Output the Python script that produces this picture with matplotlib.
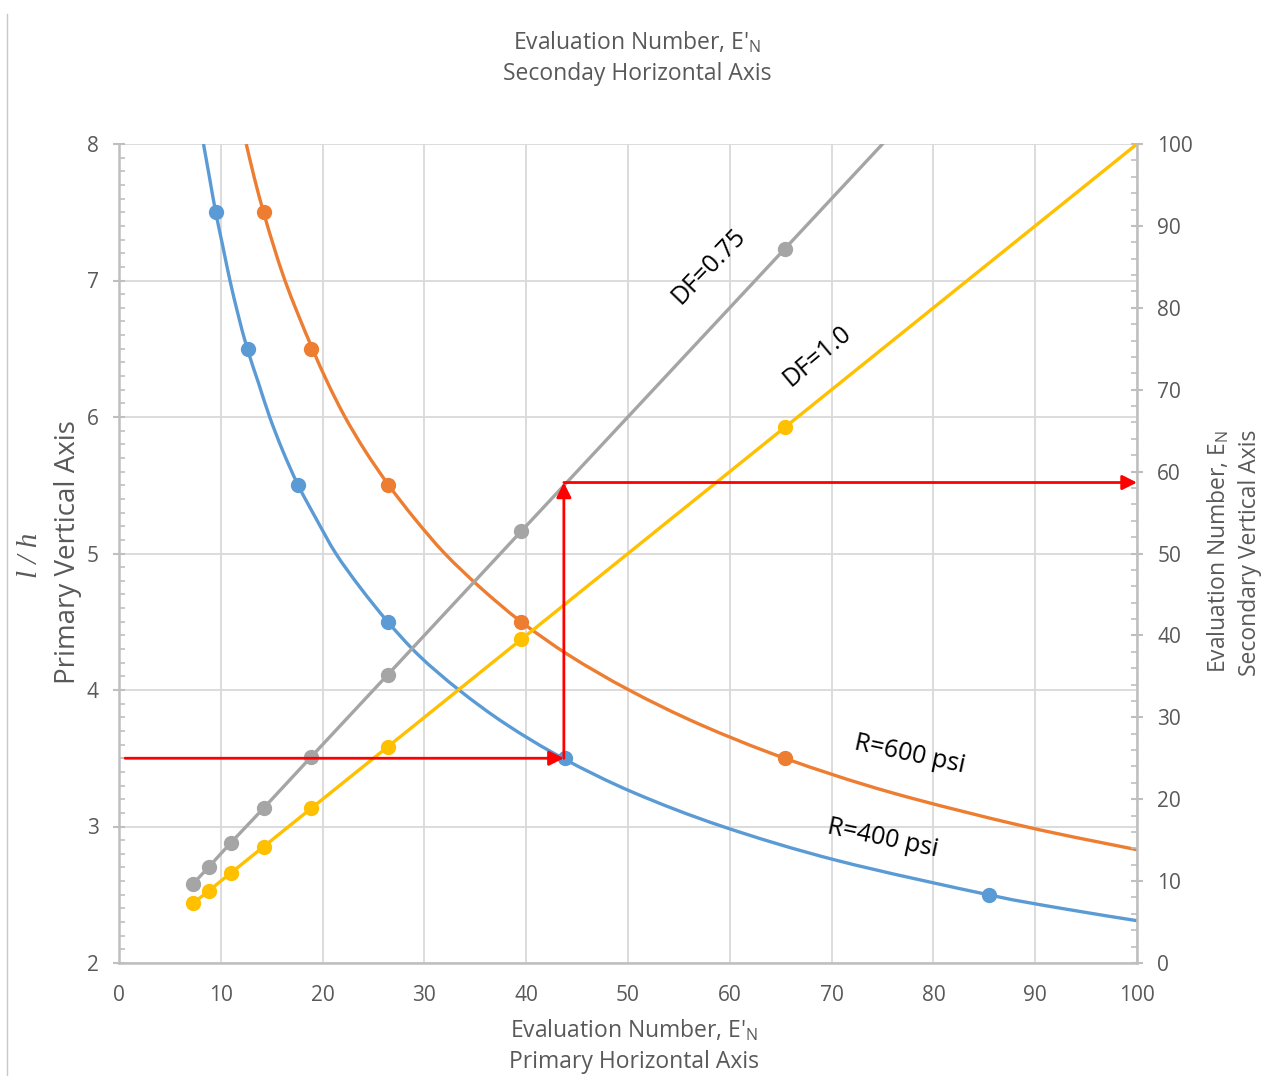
import matplotlib
matplotlib.use('Agg')
import matplotlib.pyplot as plt
import numpy as np
from matplotlib.lines import Line2D
from matplotlib.path import Path
from matplotlib.patches import PathPatch
from matplotlib.ticker import MultipleLocator

plt.rcParams['font.family'] = ['Open Sans', 'DejaVu Sans']
plt.rcParams['mathtext.default'] = 'regular'

# R=400 psi curve (primary axes)
r400_curve_x = [8.3, 8.9, 9.5, 10.2, 10.9, 11.7, 12.6, 13.7, 14.8, 16.1, 17.6, 19.4, 21.3,
                23.7, 26.4, 29.5, 33.4, 38.0, 43.6, 50.5, 59.3, 70.6, 85.4, 92.6, 100.0]
r400_curve_y = [8.0, 7.75, 7.5, 7.25, 7.0, 6.75, 6.5, 6.25, 6.0, 5.75, 5.5, 5.25, 5.0,
                4.75, 4.5, 4.25, 4.0, 3.75, 3.5, 3.25, 3.0, 2.75, 2.5, 2.4, 2.31]
r400_pts_x = [9.5, 12.7, 17.6, 26.4, 43.8, 85.5]
r400_pts_y = [7.5, 6.5, 5.5, 4.5, 3.5, 2.5]

# R=600 psi curve
r600_curve_x = [12.5, 13.3, 14.2, 15.2, 16.3, 17.6, 19.0, 20.5, 22.2, 24.2, 26.5, 29.1, 32.0,
                35.5, 39.5, 44.3, 50.1, 57.0, 65.4, 75.8, 89.0, 100.0]
r600_curve_y = [8.0, 7.75, 7.5, 7.25, 7.0, 6.75, 6.5, 6.25, 6.0, 5.75, 5.5, 5.25, 5.0,
                4.75, 4.5, 4.25, 4.0, 3.75, 3.5, 3.25, 3.0, 2.83]
r600_pts_x = [14.2, 18.9, 26.4, 39.5, 65.4]
r600_pts_y = [7.5, 6.5, 5.5, 4.5, 3.5]

# DF lines (secondary vertical axis)
df_pts_x = [7.3, 8.8, 11.0, 14.2, 18.9, 26.4, 39.5, 65.4]
df075_pts_y = [9.7, 11.7, 14.7, 18.9, 25.2, 35.2, 52.7, 87.2]
df075_end = (75.0, 100.0)
df100_pts_y = [7.3, 8.8, 11.0, 14.2, 18.9, 26.4, 39.5, 65.4]
df100_end = (100.0, 100.0)

# worked example path
ex_start_x = 0.6
ex_x = 43.7
ex_y1 = 3.5
ex_y2 = 5.52

BLUE = '#5B9BD5'
ORANGE = '#ED7D31'
GRAY = '#A5A5A5'
YELLOW = '#FFC000'
TXT = '#595959'
AXC = '#BFBFBF'


def smooth_path(xs, ys):
    # Catmull-Rom through the read points, drawn as cubic Bezier segments
    p = np.column_stack([xs, ys]).astype(float)
    p = np.vstack([p[0], p, p[-1]])
    verts = [p[1]]
    codes = [Path.MOVETO]
    for i in range(1, len(p) - 2):
        c1 = p[i] + (p[i + 1] - p[i - 1]) / 6
        c2 = p[i + 1] - (p[i + 2] - p[i]) / 6
        verts += [c1, c2, p[i + 1]]
        codes += [Path.CURVE4] * 3
    return Path(verts, codes)


def main():
    fig = plt.figure(figsize=(12.72, 10.76), dpi=100)
    ax = fig.add_axes([119 / 1272, 1 - 963 / 1076, (1137 - 119) / 1272, (963 - 144) / 1076])
    ax2 = ax.twinx()

    ax.set_xlim(0, 100)
    ax.set_ylim(2, 8)
    ax2.set_ylim(0, 100)

    ax.xaxis.set_major_locator(MultipleLocator(10))
    ax.yaxis.set_major_locator(MultipleLocator(1))
    ax.yaxis.set_minor_locator(MultipleLocator(0.1))
    ax2.yaxis.set_major_locator(MultipleLocator(10))
    ax2.yaxis.set_minor_locator(MultipleLocator(2))

    ax.grid(True, which='major', color='#D9D9D9', lw=1.3)
    ax.set_axisbelow(True)

    for a in (ax, ax2):
        for s in a.spines.values():
            s.set_visible(False)
    ax.spines['left'].set_visible(True)
    ax.spines['bottom'].set_visible(True)
    ax2.spines['right'].set_visible(True)
    for s in (ax.spines['left'], ax.spines['bottom'], ax2.spines['right']):
        s.set_color(AXC)
        s.set_linewidth(1.8)

    ax.tick_params(axis='x', length=0, pad=16, labelsize=15, labelcolor=TXT)
    ax.tick_params(axis='y', which='major', direction='inout', length=9, width=1.5,
                   color=AXC, pad=10, labelsize=15, labelcolor=TXT)
    ax.tick_params(axis='y', which='minor', direction='in', length=4, width=1.2, color=AXC)
    ax2.tick_params(axis='y', which='major', direction='inout', length=9, width=1.5,
                    color=AXC, pad=10, labelsize=15, labelcolor=TXT)
    ax2.tick_params(axis='y', which='minor', direction='in', length=4, width=1.2, color=AXC)

    # curves on primary axes
    ax.add_patch(PathPatch(smooth_path(r400_curve_x, r400_curve_y), fill=False,
                           edgecolor=BLUE, lw=2.4))
    ax.plot(r400_pts_x, r400_pts_y, 'o', color=BLUE, ms=10)
    ax.add_patch(PathPatch(smooth_path(r600_curve_x, r600_curve_y), fill=False,
                           edgecolor=ORANGE, lw=2.4))
    ax.plot(r600_pts_x, r600_pts_y, 'o', color=ORANGE, ms=10)

    # DF lines on secondary axis
    ax2.plot(df_pts_x + [df075_end[0]], df075_pts_y + [df075_end[1]], color=GRAY, lw=2.4)
    ax2.plot(df_pts_x, df075_pts_y, 'o', color=GRAY, ms=10)
    ax2.plot(df_pts_x + [df100_end[0]], df100_pts_y + [df100_end[1]], color=YELLOW, lw=2.4)
    ax2.plot(df_pts_x, df100_pts_y, 'o', color=YELLOW, ms=10)

    # red arrows (drawn on ax2 so they sit on top, in primary coordinates)
    arrow = dict(arrowstyle='-|>', color='#FF0000', lw=2, mutation_scale=22,
                 shrinkA=0, shrinkB=0)
    ax2.annotate('', xy=(ex_x, ex_y1), xytext=(ex_start_x, ex_y1),
                 xycoords=ax.transData, textcoords=ax.transData, arrowprops=arrow)
    ax2.annotate('', xy=(ex_x, ex_y2), xytext=(ex_x, ex_y1),
                 xycoords=ax.transData, textcoords=ax.transData, arrowprops=arrow)
    ax2.annotate('', xy=(100, ex_y2), xytext=(ex_x, ex_y2),
                 xycoords=ax.transData, textcoords=ax.transData, arrowprops=arrow,
                 annotation_clip=False)

    # curve labels
    ax.text(57.9, 7.1, 'DF=0.75', rotation=46, fontsize=18, ha='center', va='center',
            rotation_mode='anchor')
    ax.text(68.6, 6.45, 'DF=1.0', rotation=40, fontsize=18, ha='center', va='center',
            rotation_mode='anchor')
    ax.text(77.7, 3.53, 'R=600 psi', rotation=-12, fontsize=18, ha='center', va='center',
            rotation_mode='anchor')
    ax.text(75.0, 2.91, 'R=400 psi', rotation=-12, fontsize=18, ha='center', va='center',
            rotation_mode='anchor')

    # axis titles
    W, H = 1272, 1076
    fig.text(637 / W, 1 - 42 / H, "Evaluation Number, E'$_{N}$", fontsize=16.5, color=TXT,
             ha='center', va='center')
    fig.text(637 / W, 1 - 74 / H, 'Seconday Horizontal Axis', fontsize=16.5, color=TXT,
             ha='center', va='center')
    fig.text(634 / W, 1 - 1030 / H, "Evaluation Number, E'$_{N}$", fontsize=16.5, color=TXT,
             ha='center', va='center')
    fig.text(634 / W, 1 - 1062 / H, 'Primary Horizontal Axis', fontsize=16.5, color=TXT,
             ha='center', va='center')
    fig.text(68 / W, 1 - 552 / H, 'Primary Vertical Axis', fontsize=20, color=TXT,
             rotation=90, ha='center', va='center')
    fig.text(30 / W, 1 - 555 / H, 'l / h', fontsize=21, color=TXT, rotation=90,
             ha='center', va='center', family='Liberation Serif', style='italic')
    fig.text(1218 / W, 1 - 552 / H, 'Evaluation Number, E$_{N}$', fontsize=16.5, color=TXT,
             rotation=90, ha='center', va='center')
    fig.text(1250 / W, 1 - 553 / H, 'Secondary Vertical Axis', fontsize=16.5, color=TXT,
             rotation=90, ha='center', va='center')

    fig.add_artist(Line2D([7 / W, 7 / W], [0, 1 - 14 / H], transform=fig.transFigure,
                          color='#C8C8C8', lw=1))

    fig.savefig('out.png', dpi=100)


if __name__ == "__main__":
    main()
